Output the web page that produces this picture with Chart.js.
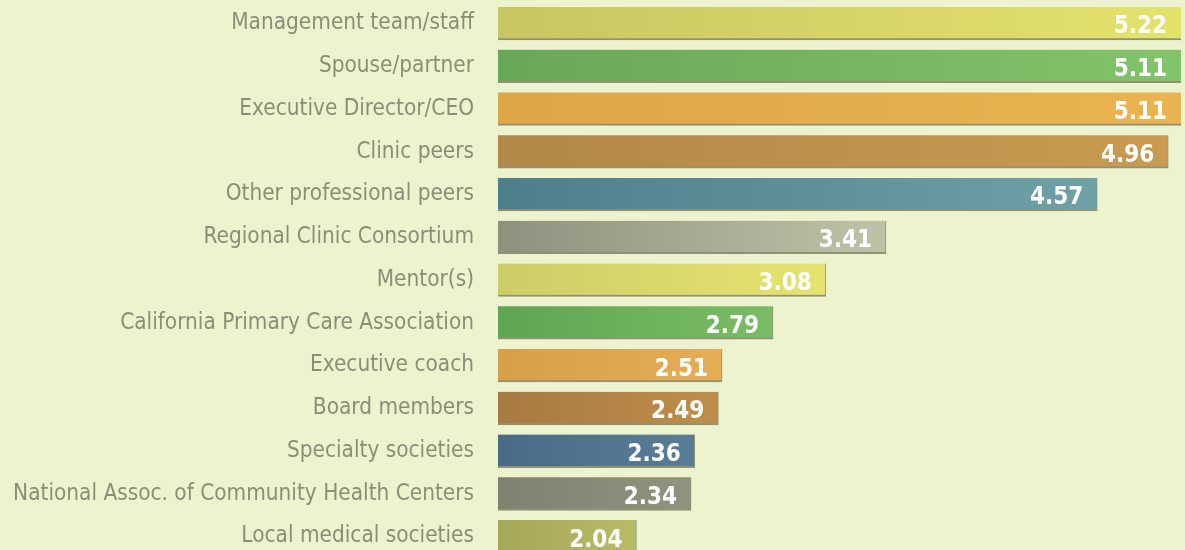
<!DOCTYPE html>
<html>
<head>
<meta charset="utf-8">
<script src="https://cdn.jsdelivr.net/npm/chart.js@4/dist/chart.umd.min.js"></script>
<style>
  html, body { margin: 0; padding: 0; background: #eef3cf; overflow: hidden; }
  #wrap { width: 1185px; height: 560px; }
</style>
</head>
<body>
<div id="wrap"><canvas id="myChart" width="1185" height="560"></canvas></div>
<script>
const categories = [
  'Management team/staff', 'Spouse/partner', 'Executive Director/CEO', 'Clinic peers',
  'Other professional peers', 'Regional Clinic Consortium', 'Mentor(s)',
  'California Primary Care Association', 'Executive coach', 'Board members',
  'Specialty societies', 'National Assoc. of Community Health Centers', 'Local medical societies'
];
const scores = [5.22, 5.11, 5.11, 4.96, 4.57, 3.41, 3.08, 2.79, 2.51, 2.49, 2.36, 2.34, 2.04];

// left (darker) and right (lighter) shade of each bar
const shadeLeft = ['#c8c663', '#68a859', '#dea645', '#b28848', '#4d7e8b', '#8e917e', '#cdcd68',
  '#5fa552', '#d79f48', '#a77a40', '#4a6b87', '#7e8271', '#a6a758'];
const shadeRight = ['#e3e36c', '#82c46a', '#eab451', '#c99b51', '#70a1a7', '#c0c2a8', '#e6e46f',
  '#7bbd65', '#e5ae56', '#bf8e4c', '#5a7d96', '#8f937f', '#babb66'];

const valueLabels = {
  id: 'valueLabels',
  afterDatasetsDraw(chart) {
    const ctx = chart.ctx;
    const area = chart.chartArea;
    const meta = chart.getDatasetMeta(0);
    ctx.save();
    ctx.font = 'bold 24px "DejaVu Sans Condensed", "DejaVu Sans"';
    ctx.fillStyle = '#ffffff';
    ctx.textAlign = 'right';
    ctx.textBaseline = 'alphabetic';
    meta.data.forEach((bar, i) => {
      const x = Math.min(bar.x, area.right) - 14;
      ctx.fillText(scores[i].toFixed(2), x, bar.y + 10);
    });
    ctx.restore();
  }
};

new Chart(document.getElementById('myChart').getContext('2d'), {
  type: 'bar',
  data: {
    labels: categories,
    datasets: [{
      data: scores,
      barThickness: 33,
      clip: 0,
      backgroundColor(c) {
        const chart = c.chart;
        const area = chart.chartArea;
        const i = c.dataIndex;
        if (!area || c.type !== 'data') return shadeLeft[i] || shadeLeft[0];
        const end = Math.min(chart.scales.x.getPixelForValue(c.raw), area.right);
        const g = chart.ctx.createLinearGradient(area.left, 0, end, 0);
        g.addColorStop(0, shadeLeft[i]);
        g.addColorStop(1, shadeRight[i]);
        return g;
      },
      borderColor: 'rgba(70,66,40,0.55)',
      borderWidth: { top: 0, right: 1, bottom: 2, left: 0 },
      borderSkipped: 'start'
    }]
  },
  options: {
    indexAxis: 'y',
    responsive: false,
    animation: false,
    layout: { padding: { top: 2, bottom: 2, left: 0, right: 4 } },
    plugins: { legend: { display: false }, tooltip: { enabled: false } },
    scales: {
      x: { display: false, min: 1.28, max: 5.03 },
      y: {
        afterFit(scale) {
          scale.width = 498;
          scale.paddingTop = 0;
          scale.paddingBottom = 0;
        },
        grid: { display: false, drawTicks: false },
        border: { display: false },
        ticks: {
          padding: 24,
          color: '#8a8e78',
          font: { family: '"DejaVu Sans Condensed", "DejaVu Sans"', size: 22.4 }
        }
      }
    }
  },
  plugins: [valueLabels]
});
</script>
</body>
</html>
